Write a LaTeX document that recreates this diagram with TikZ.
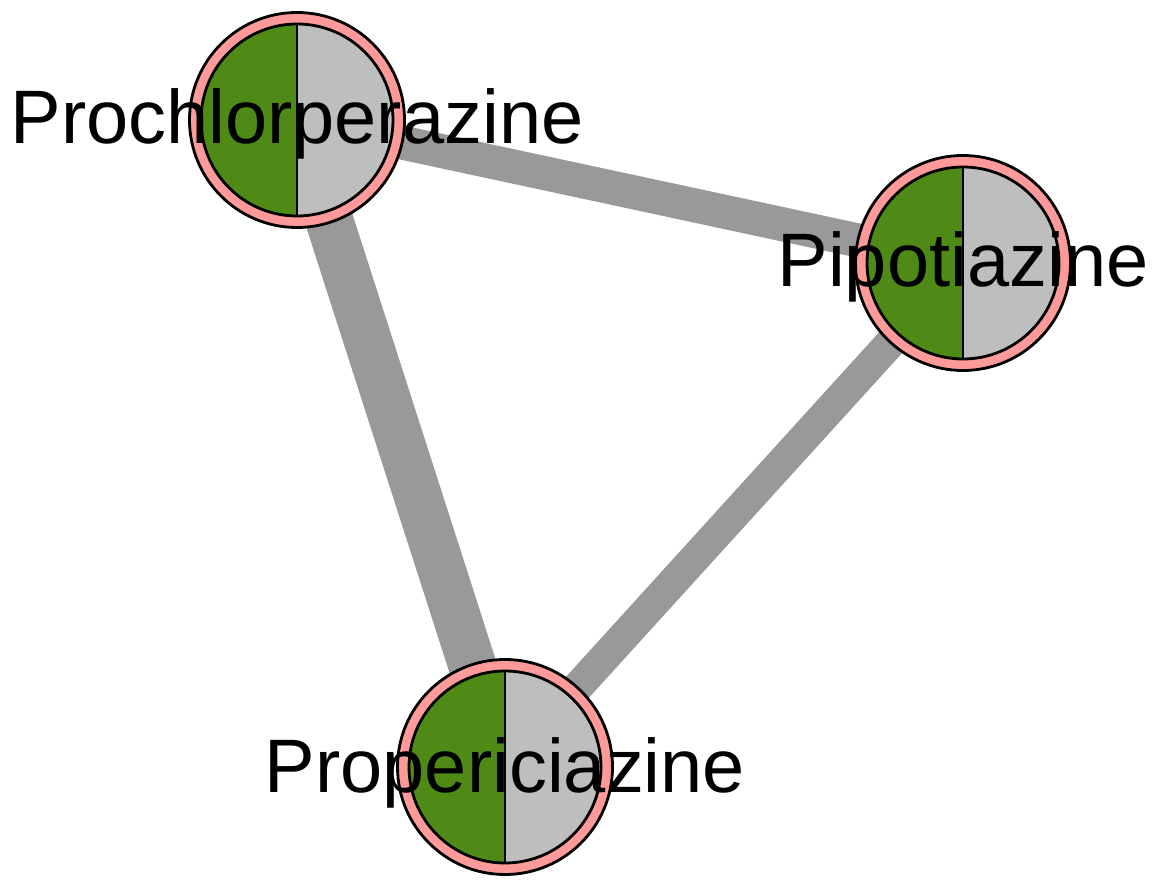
\documentclass[tikz,border=0pt]{standalone}
\usepackage{fontspec}
\setmainfont{Liberation Sans}
\usetikzlibrary{backgrounds,calc}
\definecolor{ringpink}{HTML}{FF9A9A}
\definecolor{halfgreen}{HTML}{4F8A17}
\definecolor{halfgray}{HTML}{BEBEBE}
\definecolor{edgegray}{HTML}{999999}
\tikzset{
  vring/.style={circle, draw=black, line width=2.8pt, fill=ringpink, minimum size=215pt, inner sep=0pt},
  vlabel/.style={anchor=base, font=\fontsize{75.8}{90}\selectfont, text=black, inner sep=0pt},
  link/.style={draw=edgegray, line cap=butt},
}
\newcommand{\piechart}[1]{%
  \fill[halfgreen] (#1) ++(90:96) arc[start angle=90, end angle=270, radius=96] -- cycle;
  \fill[halfgray] (#1) ++(90:96) arc[start angle=90, end angle=-90, radius=96] -- cycle;
  \draw[line width=2.8pt] (#1) circle[radius=96];
  \draw[line width=2.8pt] (#1) ++(0,96) -- ++(0,-192);
}
\begin{document}
\begin{tikzpicture}[x=1pt, y=1pt]
\useasboundingbox (0,0) rectangle (1155,880);
\coordinate (A) at (297,760);
\coordinate (B) at (963,617);
\coordinate (C) at (505,113);
\node[vring] (pA) at (A) {};
\node[vring] (pB) at (B) {};
\node[vring] (pC) at (C) {};
\begin{scope}[on background layer]
  \draw[link, line width=34pt] (A) -- (B);
  \draw[link, line width=48pt] (A) -- (C);
  \draw[link, line width=31pt] (B) -- (C);
\end{scope}
\piechart{A}
\piechart{B}
\piechart{C}
\node[vlabel] (lA) at ($(A)+(0,-24)$) {Prochlorperazine};
\node[vlabel] (lB) at ($(B)+(0,-24)$) {Pipotiazine};
\node[vlabel] (lC) at ($(C)+(0,-25)$) {Propericiazine};
\end{tikzpicture}
\end{document}
